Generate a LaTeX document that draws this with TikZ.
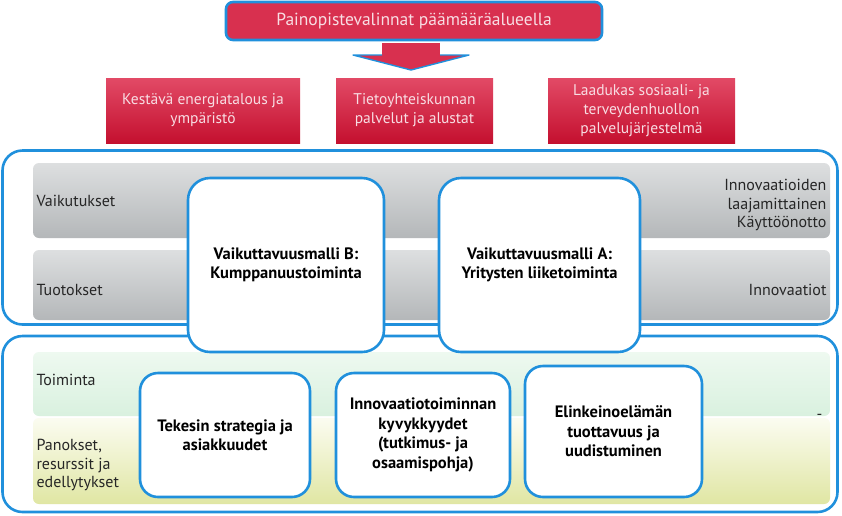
\documentclass[tikz,border=0pt]{standalone}
\usepackage{fontspec}
\setmainfont{PT Sans}
\usetikzlibrary{positioning,calc}
\definecolor{bblue}{HTML}{2090DC}
\definecolor{redtop}{HTML}{E24A66}
\definecolor{redbot}{HTML}{C4102F}
\definecolor{redmid}{HTML}{D8304F}
\definecolor{pinktxt}{HTML}{F8DDE3}
\definecolor{graytop}{HTML}{DDDFE0}
\definecolor{graybot}{HTML}{B4B7B9}
\definecolor{greentop}{HTML}{EEF9F0}
\definecolor{greenbot}{HTML}{D9F1DF}
\definecolor{yeltop}{HTML}{FBFCF1}
\definecolor{yelbot}{HTML}{E0E6A3}
\begin{document}
\begin{tikzpicture}[x=1pt,y=-1pt,
  frame/.style={draw=bblue,line width=2.6pt,rounded corners=20pt,fill=white},
  whitebox/.style={draw=bblue,line width=2.6pt,rounded corners=22pt,fill=white,align=center,font=\fontsize{16.5}{19.5}\selectfont\bfseries},
  redbox/.style={top color=redtop,bottom color=redbot,draw=none,align=center,text=pinktxt,font=\fontsize{15.5}{19}\selectfont},
  lbl/.style={anchor=west,align=left,font=\fontsize{16}{18.5}\selectfont,text=black!85},
  rlbl/.style={anchor=east,align=right,font=\fontsize{16}{18.5}\selectfont,text=black!85}]
\useasboundingbox (0,0) rectangle (842,515);
% top box
\node[draw=bblue,line width=2.6pt,fill=redmid,rounded corners=7pt,minimum width=376pt,minimum height=38pt,text=pinktxt,font=\fontsize{17.5}{20}\selectfont] (top) at (414,21) {Painopistevalinnat päämääräalueella};
% arrow
\coordinate (ar) at (411,43);
\fill[redmid] ($(ar)+(-29,0)$) rectangle ($(ar)+(29,14)$);
\draw[fill=redmid,draw=bblue,line width=1.4pt,line join=round] ($(ar)+(-29,12)$) -- ($(ar)+(-58,12)$) -- ($(ar)+(0,27)$) -- ($(ar)+(58,12)$) -- ($(ar)+(29,12)$);
% red boxes
\node[redbox,minimum width=194pt,minimum height=65pt] (r1) at (203,110.5) {Kestävä energiatalous ja\\ympäristö};
\node[redbox,minimum width=157pt,minimum height=65pt] (r2) at (414.5,110.5) {Tietoyhteiskunnan\\palvelut ja alustat};
\node[redbox,minimum width=187pt,minimum height=65pt] (r3) at (641.5,110.5) {Laadukas sosiaali- ja\\terveydenhuollon\\palvelujärjestelmä};
% frames
\node[frame,minimum width=835pt,minimum height=174pt] (f1) at (420,237.5) {};
\node[frame,minimum width=835pt,minimum height=176pt] (f2) at (420,424) {};
% bands
\node[top color=graytop,bottom color=graybot,rounded corners=6pt,minimum width=797pt,minimum height=75pt,inner sep=0pt] (b1) at (431.5,200.5) {};
\node[top color=graytop,bottom color=graybot,rounded corners=6pt,minimum width=797pt,minimum height=70pt,inner sep=0pt] (b2) at (431.5,285) {};
\node[top color=greentop,bottom color=greenbot,rounded corners=6pt,minimum width=797pt,minimum height=64pt,inner sep=0pt] (b3) at (431.5,384) {};
\node[top color=yeltop,bottom color=yelbot,rounded corners=6pt,minimum width=797pt,minimum height=86pt,inner sep=0pt] (b4) at (431.5,461) {};
% labels
\node[lbl] (l1) at (33,201) {Vaikutukset};
\node[lbl] (l2) at (33,290) {Tuotokset};
\node[lbl] (l3) at (33,380) {Toiminta};
\node[lbl] (l4) at (33,465) {Panokset,\\resurssit ja\\edellytykset};
\node[rlbl] (r1l) at (830,205) {Innovaatioiden\\laajamittainen\\Käyttöönotto};
\node[rlbl] (r2l) at (830,290) {Innovaatiot};
\node[rlbl] (r3l) at (826,417) {-};
% tall boxes
\node[whitebox,minimum width=196pt,minimum height=174pt] (vb) at (286,265) {Vaikuttavuusmalli B:\\Kumppanuustoiminta};
\node[whitebox,minimum width=201pt,minimum height=174pt] (va) at (539.5,265) {Vaikuttavuusmalli A:\\Yritysten liiketoiminta};
% small boxes
\node[whitebox,rounded corners=18pt,minimum width=170pt,minimum height=124pt] (s1) at (225,435) {Tekesin strategia ja\\asiakkuudet};
\node[whitebox,rounded corners=18pt,minimum width=174pt,minimum height=124pt] (s2) at (423,435) {Innovaatiotoiminnan\\kyvykkyydet\\(tutkimus- ja\\osaamispohja)};
\node[whitebox,rounded corners=18pt,minimum width=177pt,minimum height=131pt] (s3) at (613.5,431.5) {Elinkeinoelämän\\tuottavuus ja\\uudistuminen};
\end{tikzpicture}
\end{document}
